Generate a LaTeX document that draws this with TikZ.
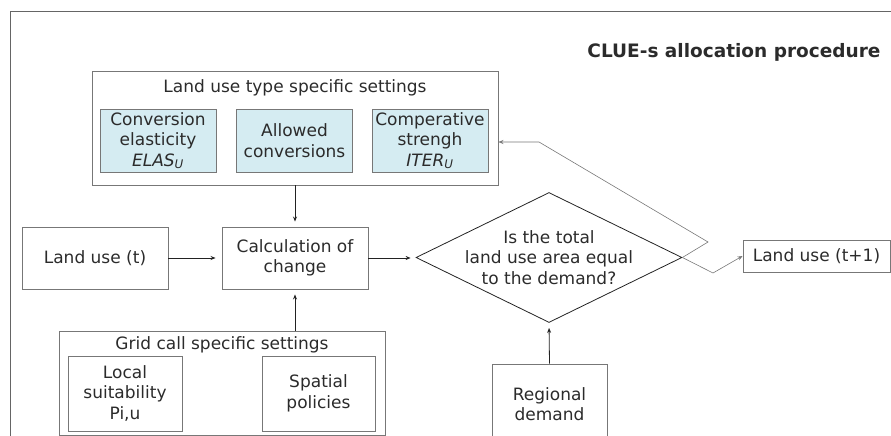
\documentclass[tikz,border=0pt]{standalone}
\usepackage{fontspec}
\setmainfont{DejaVu Sans}
\usetikzlibrary{shapes.geometric,arrows.meta}
\definecolor{txtgray}{HTML}{2B2B2B}
\definecolor{linegray}{HTML}{777777}
\definecolor{boxblue}{HTML}{D5ECF2}
\definecolor{arrgray}{HTML}{222222}

\begin{document}
\begin{tikzpicture}[x=1pt,y=-1pt,
  font=\fontsize{17}{20.5}\selectfont, text=txtgray,
  box/.style={draw=linegray, line width=0.9pt, align=center, inner sep=0pt},
  bluebox/.style={box, fill=boxblue},
  flow/.style={draw=arrgray, line width=0.8pt, -{Stealth[length=5pt,width=4pt]}},
  loopline/.style={draw=linegray, line width=0.6pt, -{Stealth[length=5pt,width=4pt]}}]
		\useasboundingbox (0,0) rectangle (891,436);
		\clip (0,0) rectangle (891,436);

		% Frame
		\draw[linegray!85!black, line width=1pt] (10,436) -- (10,12) -- (891,12);
		\node[font=\fontsize{18.5}{22}\selectfont\bfseries, anchor=east] (title) at (884,52) {CLUE-s allocation procedure};

		% Land use type specific settings
		\node[box, minimum width=406, minimum height=114] (luts) at (295,128) {};
		\node (lutstitle) at (295,88) {Land use type specific settings};
		\node[bluebox, minimum width=116, minimum height=63] (elas) at (158,140.5) {Conversion\\elasticity\\{\itshape ELAS\textsubscript{U}}};
		\node[bluebox, minimum width=116, minimum height=63] (allowed) at (294.5,140.5) {Allowed\\conversions};
		\node[bluebox, minimum width=116, minimum height=63] (iter) at (430,140.5) {Comperative\\strengh\\{\itshape ITER\textsubscript{U}}};

		% Main row
		\node[box, minimum width=146, minimum height=62] (lut) at (95,258) {Land use (t)};
		\node[box, minimum width=146, minimum height=62] (calc) at (295,258) {Calculation of\\change};
		\node[diamond, draw=arrgray, line width=0.8pt, inner sep=0pt, minimum width=266, minimum height=130] (dec) at (549,257.5) {};
		\node[align=center] (dectext) at (dec.center) {Is the total\\land use area equal\\to the demand?};
		\node[box, minimum width=147, minimum height=32] (lutnext) at (816.5,256) {Land use (t+1)};

		% Grid cell specific settings
		\node[box, minimum width=326, minimum height=104] (grid) at (222,383) {};
		\node (gridtitle) at (222,345) {Grid call specific settings};
		\node[box, minimum width=114, minimum height=75] (local) at (125,393.5) {Local\\suitability\\Pi,u};
		\node[box, minimum width=113, minimum height=75] (spatial) at (318.5,393.5) {Spatial\\policies};

		% Regional demand
		\node[box, minimum width=115, minimum height=80] (regional) at (549.5,404) {Regional\\demand};

		% Connectors
		\draw[flow, shorten >=5pt] (luts.south -| calc) -- (calc.north);
		\draw[flow, shorten >=6pt] (lut.east) -- (calc.west);
		\draw[flow, shorten >=5pt] (calc.east) -- (calc.east -| dec.west);
		\draw[flow, shorten >=5pt] (grid.north -| calc) -- (calc.south);
		\draw[flow, shorten >=5pt] (regional.north) -- (dec.south);

		% Loop back and exit
		\coordinate (turn) at (708,242);
		\coordinate (knee) at (539,142);
		\coordinate (dip) at (713,273);
		\draw[loopline] (dec.east) -- (turn) -- (knee) -- (luts.east |- knee);
		\draw[loopline] (dec.east) -- (dip) -- (lutnext.west);
	\end{tikzpicture}
\end{document}
